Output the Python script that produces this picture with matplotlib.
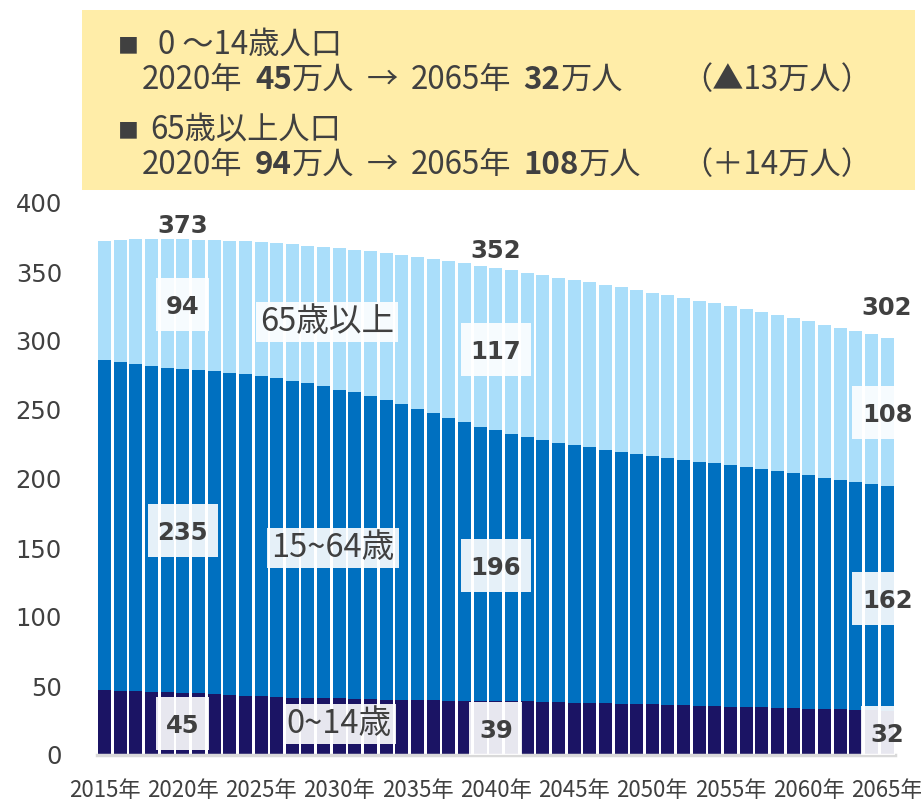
import numpy as np
import matplotlib
matplotlib.use('Agg')
import matplotlib.pyplot as plt
from matplotlib.patches import Rectangle

# population (万人), 2015-2065
years = np.arange(2015, 2066)
age_0_14 = [47.3, 46.6, 46.3, 45.8, 45.3, 45.0, 44.6, 44.1, 43.5, 42.9,
            42.4, 42.0, 41.6, 41.3, 41.2, 41.0, 40.7, 40.5, 40.2, 40.0,
            39.9, 39.6, 39.4, 39.3, 39.2, 39.0, 39.0, 38.9, 38.6, 38.3,
            38.0, 37.8, 37.5, 37.2, 37.0, 36.8, 36.5, 36.2, 35.8, 35.5,
            35.1, 34.9, 34.5, 34.3, 33.9, 33.6, 33.3, 33.0, 32.7, 32.4,
            32.1]
age_15_64 = [238.7, 237.9, 236.7, 235.9, 235.4, 235.0, 234.7, 233.9, 233.5, 233.1,
             232.1, 231.0, 229.7, 228.1, 226.0, 223.8, 222.2, 219.5, 216.8, 214.0,
             211.0, 207.9, 204.9, 201.7, 198.6, 196.2, 193.5, 191.4, 189.4, 188.0,
             186.3, 185.1, 183.7, 182.3, 180.8, 179.6, 178.4, 177.3, 176.7, 175.8,
             174.7, 173.7, 172.9, 171.7, 170.6, 169.0, 167.3, 166.0, 164.8, 163.7,
             162.5]
age_65 = [86.7, 88.7, 90.7, 92.2, 93.0, 93.6, 94.1, 95.2, 95.8, 96.3,
          97.2, 97.7, 98.7, 99.8, 101.1, 102.3, 103.2, 104.9, 106.5, 108.3,
          109.9, 111.9, 113.6, 115.2, 116.8, 117.4, 118.9, 119.3, 120.0, 119.7,
          120.0, 119.7, 119.7, 119.5, 119.2, 118.7, 118.3, 117.7, 116.8, 116.0,
          115.4, 114.6, 113.6, 112.8, 112.2, 111.9, 111.2, 110.6, 109.7, 108.7,
          107.6]

label_years = [2020, 2040, 2065]
total_labels = [373, 352, 302]
young_labels = [45, 39, 32]
working_labels = [235, 196, 162]
elderly_labels = [94, 117, 108]
total_pad = [4.6, 7.3, 16.6]   # points above bar top

NAVY = '#1B1464'
MID = '#0070C0'
LIGHT = '#AADEFA'
TEXT = '#404040'
JP = 'Noto Sans CJK JP'

W, H = 921, 802
fig = plt.figure(figsize=(W / 100, H / 100), dpi=100)
ax = fig.add_axes([96.7 / W, 47 / H, 798.2 / W, 552 / H])

x = np.arange(len(years))
young = np.array(age_0_14)
work = np.array(age_15_64)
old = np.array(age_65)

ax.bar(x, young, width=0.83, color=NAVY, linewidth=0)
ax.bar(x, work, bottom=young, width=0.83, color=MID, linewidth=0)
ax.bar(x, old, bottom=young + work, width=0.83, color=LIGHT, linewidth=0)

ax.set_xlim(-0.5, len(years) - 0.5)
ax.set_ylim(0, 400)
ax.set_yticks(range(0, 401, 50))
ax.set_xticks(x[::5])
ax.set_xticklabels([f'{y}年' for y in years[::5]], fontfamily=JP, fontsize=16, color=TEXT)
ax.tick_params(axis='x', length=0, pad=17)
ax.tick_params(axis='y', length=0, pad=25, labelsize=17.5, labelcolor=TEXT)
for s in ['top', 'right', 'left']:
    ax.spines[s].set_visible(False)
ax.spines['bottom'].set_color('#D9D9D9')
ax.spines['bottom'].set_linewidth(2.5)

px_x = 798.2 / len(years)
px_y = 552 / 400


def value_box(xc, yc, val):
    s = str(val)
    w = (17 * len(s) + 19) / px_x
    h = 53 / px_y
    ax.add_patch(Rectangle((xc - w / 2, yc - h / 2), w, h, facecolor='white',
                           alpha=0.9, edgecolor='none', zorder=3))
    ax.text(xc, yc, s, ha='center', va='center_baseline', fontsize=17.5,
            fontweight='bold', color=TEXT, zorder=4, clip_on=False)


for i, yr in enumerate(label_years):
    k = int(yr - years[0])
    b1 = young[k]
    b2 = b1 + work[k]
    top = b2 + old[k]
    value_box(k, b1 / 2, young_labels[i])
    value_box(k, (b1 + b2) / 2, working_labels[i])
    value_box(k, (b2 + top) / 2, elderly_labels[i])
    ax.annotate(str(total_labels[i]), xy=(k, top), xytext=(0, total_pad[i]),
                textcoords='offset points', ha='center', va='baseline',
                fontsize=17.5, fontweight='bold', color=TEXT, annotation_clip=False)

cat_box = dict(boxstyle='square,pad=0.12', facecolor='white', alpha=0.9, edgecolor='none')
ax.text(14.2, 313.8, '65歳以上', ha='center', va='center', fontsize=23.5, fontfamily=JP,
        color=TEXT, bbox=cat_box, zorder=4)
ax.text(14.6, 150, '15~64歳', ha='center', va='center', fontsize=23.5, fontfamily=JP,
        color=TEXT, bbox=cat_box, zorder=4)
ax.text(15.0, 22.5, '0~14歳', ha='center', va='center', fontsize=23.5, fontfamily=JP,
        color=TEXT, bbox=cat_box, zorder=4)

# header box
fig.add_artist(Rectangle((82 / W, 1 - 190 / H), 833 / W, 180 / H, transform=fig.transFigure,
                         facecolor='#FFEDA8', edgecolor='none', zorder=0))

HS = 22.5


def header_line(parts, x_px, base_px, size=HS):
    prev = None
    for s, wgt, gap in parts:
        if prev is None:
            prev = fig.text(x_px / W, 1 - base_px / H, s, fontsize=size, fontweight=wgt,
                            fontfamily=JP, color=TEXT, va='baseline', ha='left')
        else:
            prev = ax.annotate(s, xy=(1, 0), xycoords=prev, xytext=(gap, 0),
                               textcoords='offset points', va='bottom', ha='left',
                               fontsize=size, fontweight=wgt, fontfamily=JP, color=TEXT,
                               annotation_clip=False)
    return prev


fig.text(118 / W, 1 - 52 / H, '■', fontsize=15, fontfamily=JP, color=TEXT, va='baseline')
fig.text(158 / W, 1 - 54 / H, '0 ～14歳人口', fontsize=HS, fontfamily=JP, color=TEXT, va='baseline')
header_line([('2020年', 'normal', 0), ('45', 'bold', 9), ('万人', 'normal', 0),
             ('→', 'normal', 9), ('2065年', 'normal', 9), ('32', 'bold', 9),
             ('万人', 'normal', 0)], 142, 89)
fig.text(872 / W, 1 - 89 / H, '（▲13万人）', fontsize=HS, fontfamily=JP, color=TEXT,
         va='baseline', ha='right')

fig.text(118 / W, 1 - 137 / H, '■', fontsize=15, fontfamily=JP, color=TEXT, va='baseline')
fig.text(150 / W, 1 - 139 / H, '65歳以上人口', fontsize=HS, fontfamily=JP, color=TEXT, va='baseline')
header_line([('2020年', 'normal', 0), ('94', 'bold', 9), ('万人', 'normal', 0),
             ('→', 'normal', 9), ('2065年', 'normal', 9), ('108', 'bold', 9),
             ('万人', 'normal', 0)], 142, 174)
fig.text(872 / W, 1 - 174 / H, '（＋14万人）', fontsize=HS, fontfamily=JP, color=TEXT,
         va='baseline', ha='right')

fig.savefig('out.png', dpi=100)
